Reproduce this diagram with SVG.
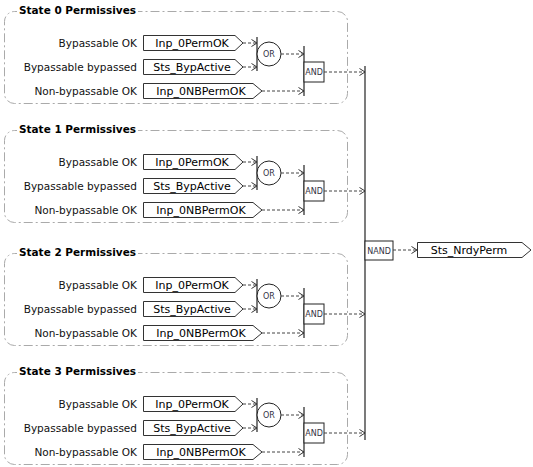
<svg xmlns="http://www.w3.org/2000/svg" width="533" height="467" viewBox="0 0 533 467">
<defs>
<marker id="arr" markerUnits="userSpaceOnUse" markerWidth="8" markerHeight="10" refX="6" refY="4" orient="auto">
<path d="M0.5,0.5 L6,4 L0.5,7.5" fill="none" stroke="#333" stroke-width="1"/>
</marker>
<style>
.frame{fill:none;stroke:#aaa;stroke-width:1;stroke-dasharray:9,3,2,3}
.tbg{fill:#fff}
.title{font-family:"DejaVu Sans",sans-serif;font-weight:bold;font-size:10.5px;fill:#000}
.lbl{font-family:"DejaVu Sans",sans-serif;font-size:10.5px;fill:#111;text-anchor:end}
.tag{fill:#fff;stroke:#333;stroke-width:1}
.tagt{font-family:"DejaVu Sans",sans-serif;font-size:11px;fill:#000;text-anchor:middle}
.bar{stroke:#222;stroke-width:1.2}
.gate{fill:#fff;stroke:#222;stroke-width:1}
.gt{font-family:"DejaVu Sans",sans-serif;font-size:8px;fill:#334;text-anchor:middle}
.con{fill:none;stroke:#444;stroke-width:1;stroke-dasharray:3,2;marker-end:url(#arr)}
</style>
</defs>
<rect width="533" height="467" fill="#fff"/>

<!-- State 0 -->
<g id="state0">
<rect class="frame" x="4.5" y="11.5" width="343" height="92" rx="10"/>
<rect class="tbg" x="17" y="3" width="121" height="14"/>
<text class="title" x="19" y="14" textLength="117" lengthAdjust="spacingAndGlyphs">State 0 Permissives</text>
</g>
<g id="s0-tag1"><text class="lbl" x="137" y="47">Bypassable OK</text><path class="tag" d="M143.5,35.5 H235 L243,43 L235,50.5 H143.5 Z"/><text class="tagt" x="192" y="47">Inp_0PermOK</text></g>
<g id="s0-tag2"><text class="lbl" x="137" y="71">Bypassable bypassed</text><path class="tag" d="M143.5,59.5 H235 L243,67 L235,74.5 H143.5 Z"/><text class="tagt" x="192" y="71">Sts_BypActive</text></g>
<g id="s0-tag3"><text class="lbl" x="137" y="95">Non-bypassable OK</text><path class="tag" d="M143.5,83.5 H253 L262,91 L253,98.5 H143.5 Z"/><text class="tagt" x="201" y="95">Inp_0NBPermOK</text></g>
<g id="s0-or"><line class="bar" x1="257" y1="37" x2="257" y2="71"/><circle class="gate" cx="269" cy="54" r="12"/><text class="gt" x="269" y="57">OR</text></g>
<g id="s0-and"><line class="bar" x1="304" y1="46" x2="304" y2="96"/><rect class="gate" x="304" y="62" width="20" height="20"/><text class="gt" x="314" y="75">AND</text></g>

<!-- State 1 -->
<g id="state1">
<rect class="frame" x="4.5" y="130.5" width="343" height="92" rx="10"/>
<rect class="tbg" x="17" y="122" width="121" height="14"/>
<text class="title" x="19" y="133" textLength="117" lengthAdjust="spacingAndGlyphs">State 1 Permissives</text>
</g>
<g id="s1-tag1"><text class="lbl" x="137" y="166">Bypassable OK</text><path class="tag" d="M143.5,154.5 H235 L243,162 L235,169.5 H143.5 Z"/><text class="tagt" x="192" y="166">Inp_0PermOK</text></g>
<g id="s1-tag2"><text class="lbl" x="137" y="190">Bypassable bypassed</text><path class="tag" d="M143.5,178.5 H235 L243,186 L235,193.5 H143.5 Z"/><text class="tagt" x="192" y="190">Sts_BypActive</text></g>
<g id="s1-tag3"><text class="lbl" x="137" y="214">Non-bypassable OK</text><path class="tag" d="M143.5,202.5 H253 L262,210 L253,217.5 H143.5 Z"/><text class="tagt" x="201" y="214">Inp_0NBPermOK</text></g>
<g id="s1-or"><line class="bar" x1="257" y1="156" x2="257" y2="190"/><circle class="gate" cx="269" cy="173" r="12"/><text class="gt" x="269" y="176">OR</text></g>
<g id="s1-and"><line class="bar" x1="304" y1="165" x2="304" y2="215"/><rect class="gate" x="304" y="181" width="20" height="20"/><text class="gt" x="314" y="194">AND</text></g>

<!-- State 2 -->
<g id="state2">
<rect class="frame" x="4.5" y="253.5" width="343" height="92" rx="10"/>
<rect class="tbg" x="17" y="245" width="121" height="14"/>
<text class="title" x="19" y="256" textLength="117" lengthAdjust="spacingAndGlyphs">State 2 Permissives</text>
</g>
<g id="s2-tag1"><text class="lbl" x="137" y="289">Bypassable OK</text><path class="tag" d="M143.5,277.5 H235 L243,285 L235,292.5 H143.5 Z"/><text class="tagt" x="192" y="289">Inp_0PermOK</text></g>
<g id="s2-tag2"><text class="lbl" x="137" y="313">Bypassable bypassed</text><path class="tag" d="M143.5,301.5 H235 L243,309 L235,316.5 H143.5 Z"/><text class="tagt" x="192" y="313">Sts_BypActive</text></g>
<g id="s2-tag3"><text class="lbl" x="137" y="337">Non-bypassable OK</text><path class="tag" d="M143.5,325.5 H253 L262,333 L253,340.5 H143.5 Z"/><text class="tagt" x="201" y="337">Inp_0NBPermOK</text></g>
<g id="s2-or"><line class="bar" x1="257" y1="279" x2="257" y2="313"/><circle class="gate" cx="269" cy="296" r="12"/><text class="gt" x="269" y="299">OR</text></g>
<g id="s2-and"><line class="bar" x1="304" y1="288" x2="304" y2="338"/><rect class="gate" x="304" y="304" width="20" height="20"/><text class="gt" x="314" y="317">AND</text></g>

<!-- State 3 -->
<g id="state3">
<rect class="frame" x="4.5" y="372.5" width="343" height="92" rx="10"/>
<rect class="tbg" x="17" y="364" width="121" height="14"/>
<text class="title" x="19" y="375" textLength="117" lengthAdjust="spacingAndGlyphs">State 3 Permissives</text>
</g>
<g id="s3-tag1"><text class="lbl" x="137" y="408">Bypassable OK</text><path class="tag" d="M143.5,396.5 H235 L243,404 L235,411.5 H143.5 Z"/><text class="tagt" x="192" y="408">Inp_0PermOK</text></g>
<g id="s3-tag2"><text class="lbl" x="137" y="432">Bypassable bypassed</text><path class="tag" d="M143.5,420.5 H235 L243,428 L235,435.5 H143.5 Z"/><text class="tagt" x="192" y="432">Sts_BypActive</text></g>
<g id="s3-tag3"><text class="lbl" x="137" y="456">Non-bypassable OK</text><path class="tag" d="M143.5,444.5 H253 L262,452 L253,459.5 H143.5 Z"/><text class="tagt" x="201" y="456">Inp_0NBPermOK</text></g>
<g id="s3-or"><line class="bar" x1="257" y1="398" x2="257" y2="432"/><circle class="gate" cx="269" cy="415" r="12"/><text class="gt" x="269" y="418">OR</text></g>
<g id="s3-and"><line class="bar" x1="304" y1="407" x2="304" y2="457"/><rect class="gate" x="304" y="423" width="20" height="20"/><text class="gt" x="314" y="436">AND</text></g>

<!-- NAND and output -->
<g id="nand"><line class="bar" x1="365" y1="66" x2="365" y2="440"/><rect class="gate" x="365" y="241" width="28" height="19"/><text class="gt" x="379" y="253.5" font-size="7.5">NAND</text></g>
<g id="out"><path class="tag" d="M417.5,242.5 H522 L531,250 L522,257.5 H417.5 Z"/><text class="tagt" x="469" y="254">Sts_NrdyPerm</text></g>

<g id="connectors">
<path class="con" d="M243,43 H257"/>
<path class="con" d="M243,67 H257"/>
<path class="con" d="M281,54 H304"/>
<path class="con" d="M262,91 H304"/>
<path class="con" d="M324,72 H365"/>
<path class="con" d="M243,162 H257"/>
<path class="con" d="M243,186 H257"/>
<path class="con" d="M281,173 H304"/>
<path class="con" d="M262,210 H304"/>
<path class="con" d="M324,191 H365"/>
<path class="con" d="M243,285 H257"/>
<path class="con" d="M243,309 H257"/>
<path class="con" d="M281,296 H304"/>
<path class="con" d="M262,333 H304"/>
<path class="con" d="M324,314 H365"/>
<path class="con" d="M243,404 H257"/>
<path class="con" d="M243,428 H257"/>
<path class="con" d="M281,415 H304"/>
<path class="con" d="M262,452 H304"/>
<path class="con" d="M324,433 H365"/>
<path class="con" d="M393,250 H417"/>
</g>
</svg>
